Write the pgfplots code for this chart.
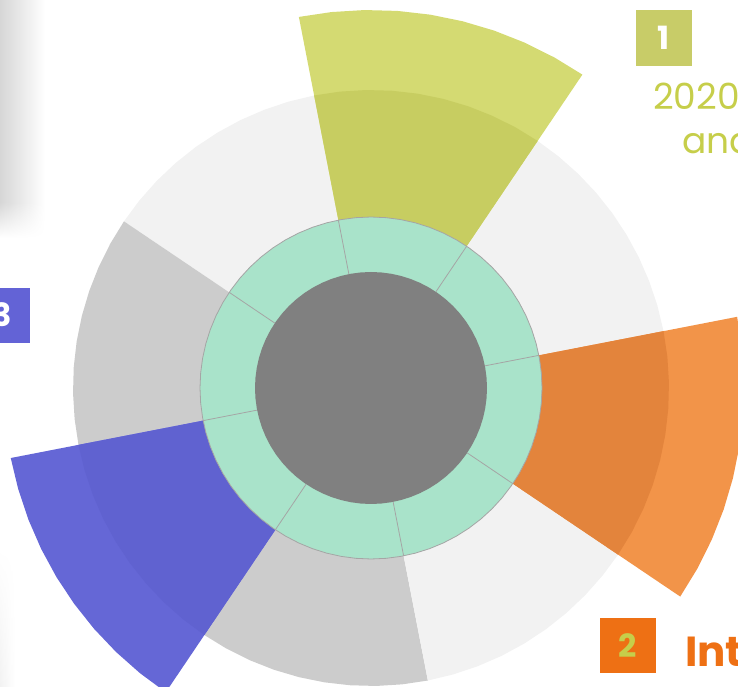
\documentclass[border=0pt]{standalone}
\usepackage{pgfplots}
\pgfplotsset{compat=1.18}
\usetikzlibrary{fadings}
\usepackage{fontspec}
\setmainfont{Poppins}

\definecolor{lightseg}{HTML}{F2F2F2}
\definecolor{darkseg}{HTML}{CCCCCC}
\definecolor{ringfill}{HTML}{A9E3CA}
\definecolor{ringline}{HTML}{A5A5A5}
\definecolor{core}{HTML}{808080}
\definecolor{yelOut}{HTML}{D4DA72}
\definecolor{yelIn}{HTML}{C7CD61}
\definecolor{oraOut}{HTML}{F29449}
\definecolor{oraIn}{HTML}{E3843C}
\definecolor{bluOut}{HTML}{6567D6}
\definecolor{bluIn}{HTML}{6062D0}
\definecolor{boxone}{HTML}{C8CC68}
\definecolor{boxthree}{HTML}{6363D6}
\definecolor{boxtwo}{HTML}{EE7014}
\definecolor{lime}{HTML}{C6CE4A}

\begin{document}
\begin{tikzpicture}
\begin{axis}[
    x=1pt, y=1pt,
    xmin=-371, xmax=367,
    ymin=-299, ymax=388,
    hide axis,
    clip=true,
    clip bounding box=upper bound,
    sector/.style={data cs=polar, draw=none},
]
\path (axis cs:-371,-299) rectangle (axis cs:367,388);

% card shadow at the left edge
\shade[left color=black!16, right color=white] (axis cs:-371,388) rectangle (axis cs:-326,185);
\shade[left color=black!16, right color=white, path fading=south] (axis cs:-371,185.5) rectangle (axis cs:-326,150);
\shade[left color=black!5, right color=white, path fading=north] (axis cs:-371,-160) rectangle (axis cs:-356,-299);

% base sectors (r = 298)
\addplot[sector, fill=lightseg] coordinates {(0,0) (11,298) (16,298) (21,298) (26,298) (31,298) (36,298) (41,298) (46,298) (51,298) (56,298)};
\addplot[sector, fill=lightseg] coordinates {(0,0) (101,298) (106,298) (111,298) (116,298) (121,298) (126,298) (131,298) (136,298) (141,298) (146,298)};
\addplot[sector, fill=darkseg] coordinates {(0,0) (146,298) (151,298) (156,298) (161,298) (166,298) (171,298) (176,298) (181,298) (186,298) (191,298)};
\addplot[sector, fill=darkseg] coordinates {(0,0) (236,298) (241,298) (246,298) (251,298) (256,298) (261,298) (266,298) (271,298) (276,298) (281,298)};
\addplot[sector, fill=lightseg] coordinates {(0,0) (281,298) (286,298) (291,298) (296,298) (301,298) (306,298) (311,298) (316,298) (321,298) (326,298)};

% highlighted sectors
\addplot[sector, fill=yelOut] coordinates {(0,0) (56,378) (61,378) (66,378) (71,378) (76,378) (81,378) (86,378) (91,378) (96,378) (101,378)};
\addplot[sector, fill=yelIn] coordinates {(0,0) (56,298) (61,298) (66,298) (71,298) (76,298) (81,298) (86,298) (91,298) (96,298) (101,298)};
\addplot[sector, fill=bluOut] coordinates {(0,0) (191,367) (196,367) (201,367) (206,367) (211,367) (216,367) (221,367) (226,367) (231,367) (236,367)};
\addplot[sector, fill=bluIn] coordinates {(0,0) (191,298) (196,298) (201,298) (206,298) (211,298) (216,298) (221,298) (226,298) (231,298) (236,298)};
\addplot[sector, fill=oraOut] coordinates {(0,0) (326,373) (331,373) (336,373) (341,373) (346,373) (351,373) (356,373) (361,373) (366,373) (371,373)};
\addplot[sector, fill=oraIn] coordinates {(0,0) (326,298) (331,298) (336,298) (341,298) (346,298) (351,298) (356,298) (361,298) (366,298) (371,298)};

% green ring
\addplot[data cs=polar, fill=ringfill, draw=ringline, line width=0.8pt] coordinates {
(0,171) (5,171) (10,171) (15,171) (20,171) (25,171) (30,171) (35,171) (40,171) (45,171)
(50,171) (55,171) (60,171) (65,171) (70,171) (75,171) (80,171) (85,171) (90,171) (95,171)
(100,171) (105,171) (110,171) (115,171) (120,171) (125,171) (130,171) (135,171) (140,171) (145,171)
(150,171) (155,171) (160,171) (165,171) (170,171) (175,171) (180,171) (185,171) (190,171) (195,171)
(200,171) (205,171) (210,171) (215,171) (220,171) (225,171) (230,171) (235,171) (240,171) (245,171)
(250,171) (255,171) (260,171) (265,171) (270,171) (275,171) (280,171) (285,171) (290,171) (295,171)
(300,171) (305,171) (310,171) (315,171) (320,171) (325,171) (330,171) (335,171) (340,171) (345,171)
(350,171) (355,171) (360,171)} -- cycle;
\addplot[data cs=polar, ringline, line width=0.8pt] coordinates {(11,116) (11,171)};
\addplot[data cs=polar, ringline, line width=0.8pt] coordinates {(56,116) (56,171)};
\addplot[data cs=polar, ringline, line width=0.8pt] coordinates {(101,116) (101,171)};
\addplot[data cs=polar, ringline, line width=0.8pt] coordinates {(146,116) (146,171)};
\addplot[data cs=polar, ringline, line width=0.8pt] coordinates {(191,116) (191,171)};
\addplot[data cs=polar, ringline, line width=0.8pt] coordinates {(236,116) (236,171)};
\addplot[data cs=polar, ringline, line width=0.8pt] coordinates {(281,116) (281,171)};
\addplot[data cs=polar, ringline, line width=0.8pt] coordinates {(326,116) (326,171)};

% dark core
\addplot[sector, fill=core] coordinates {
(0,116) (5,116) (10,116) (15,116) (20,116) (25,116) (30,116) (35,116) (40,116) (45,116)
(50,116) (55,116) (60,116) (65,116) (70,116) (75,116) (80,116) (85,116) (90,116) (95,116)
(100,116) (105,116) (110,116) (115,116) (120,116) (125,116) (130,116) (135,116) (140,116) (145,116)
(150,116) (155,116) (160,116) (165,116) (170,116) (175,116) (180,116) (185,116) (190,116) (195,116)
(200,116) (205,116) (210,116) (215,116) (220,116) (225,116) (230,116) (235,116) (240,116) (245,116)
(250,116) (255,116) (260,116) (265,116) (270,116) (275,116) (280,116) (285,116) (290,116) (295,116)
(300,116) (305,116) (310,116) (315,116) (320,116) (325,116) (330,116) (335,116) (340,116) (345,116)
(350,116) (355,116) (360,116)};

% labels around the chart
\fill[boxone] (axis cs:265,378) rectangle (axis cs:321,322);
\node[white, font=\bfseries\fontsize{32}{34}\selectfont] at (axis cs:293,350) {1};
\node[lime, anchor=base west, inner sep=0pt, font=\fontsize{36}{38}\selectfont] at (axis cs:282,278) {2020};
\node[lime, anchor=base west, inner sep=0pt, font=\fontsize{36}{38}\selectfont] at (axis cs:311,234) {and};

\fill[boxthree] (axis cs:-397,100) rectangle (axis cs:-341,45);
\node[white, font=\bfseries\fontsize{32}{34}\selectfont] at (axis cs:-369,73) {3};

\fill[boxtwo] (axis cs:229,-230) rectangle (axis cs:285,-285);
\node[lime, font=\bfseries\fontsize{32}{34}\selectfont] at (axis cs:257,-258) {2};
\node[boxtwo, anchor=base west, inner sep=0pt, font=\bfseries\fontsize{42}{44}\selectfont] at (axis cs:314,-279) {Inte};
\end{axis}
\end{tikzpicture}
\end{document}
